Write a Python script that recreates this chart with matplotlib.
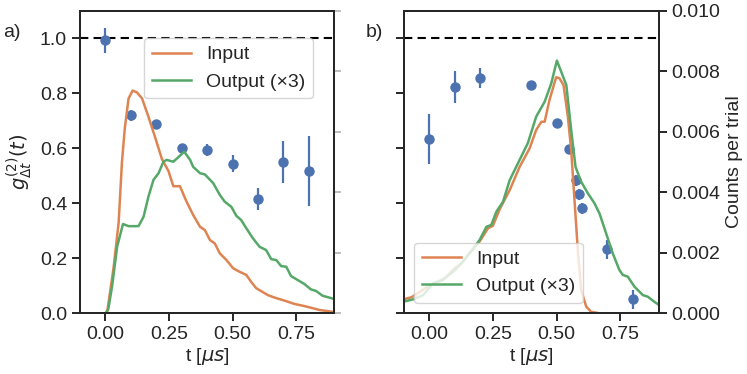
import numpy as np
import matplotlib
matplotlib.use("Agg")
import matplotlib.pyplot as plt

# ---- panel a) data ----
a_t_pts = [0.0, 0.1, 0.2, 0.3, 0.4, 0.5, 0.6, 0.7, 0.8]
a_g2 = [0.992, 0.72, 0.689, 0.601, 0.593, 0.544, 0.414, 0.55, 0.517]
a_g2_err = [0.045, 0.02, 0.012, 0.012, 0.023, 0.03, 0.04, 0.076, 0.126]

a_in_t = [-0.1, 0.0, 0.007, 0.032, 0.052, 0.065, 0.076, 0.091, 0.107, 0.124, 0.144,
          0.169, 0.196, 0.222, 0.248, 0.267, 0.293, 0.319, 0.345, 0.372, 0.391,
          0.411, 0.430, 0.450, 0.476, 0.502, 0.528, 0.554, 0.573, 0.593, 0.639,
          0.665, 0.704, 0.743, 0.782, 0.815, 0.841, 0.867, 0.9]
a_in = [0.0, 0.0, 0.00005, 0.0015, 0.0030, 0.0050, 0.0061, 0.0071, 0.00736, 0.0073, 0.0071,
        0.0065, 0.0058, 0.0051, 0.0047, 0.0042, 0.0042, 0.00369, 0.00325, 0.00286, 0.00275,
        0.00242, 0.00231, 0.00198, 0.00176, 0.00149, 0.00137, 0.00127, 0.00104, 0.00083, 0.00060,
        0.00052, 0.00042, 0.00031, 0.00024, 0.00017, 0.00011, 0.00008, 0.00004]

a_out_t = [-0.1, 0.0, 0.011, 0.026, 0.046, 0.069, 0.091, 0.130, 0.150, 0.169, 0.189,
           0.209, 0.228, 0.241, 0.267, 0.287, 0.310, 0.333, 0.345, 0.372, 0.391,
           0.424, 0.450, 0.469, 0.495, 0.515, 0.534, 0.554, 0.580, 0.606, 0.632,
           0.652, 0.672, 0.691, 0.711, 0.730, 0.756, 0.782, 0.808, 0.828, 0.854,
           0.880, 0.9]
a_out = [0.0, 0.0, 0.00013, 0.00088, 0.0022, 0.00295, 0.00288, 0.00288, 0.00319, 0.00385, 0.00441,
         0.00463, 0.00501, 0.00507, 0.00501, 0.00516, 0.00534, 0.00507, 0.00484, 0.00463, 0.00459,
         0.0043, 0.00391, 0.00369, 0.00352, 0.00322, 0.00308, 0.00281, 0.00248, 0.0022, 0.00209,
         0.00179, 0.00176, 0.00156, 0.00154, 0.00123, 0.0011, 0.00097, 0.00079, 0.00074, 0.00058,
         0.00052, 0.00047]

# ---- panel b) data ----
b_t_pts = [0.0, 0.1, 0.2, 0.4, 0.5, 0.55, 0.577, 0.588, 0.599, 0.696, 0.798]
b_g2 = [0.635, 0.822, 0.855, 0.831, 0.693, 0.596, 0.484, 0.433, 0.381, 0.232, 0.051]
b_g2_err = [0.091, 0.058, 0.035, 0.01, 0.01, 0.01, 0.02, 0.02, 0.02, 0.035, 0.035]

b_in_t = [-0.102, -0.069, -0.036, 0.003, 0.055, 0.101, 0.127, 0.159, 0.198, 0.231, 0.250,
          0.277, 0.316, 0.355, 0.394, 0.420, 0.440, 0.453, 0.472, 0.498, 0.511,
          0.527, 0.544, 0.557, 0.570, 0.583, 0.596, 0.616, 0.635, 0.668, 0.9]
b_in = [0.00046, 0.00053, 0.00071, 0.00094, 0.0011, 0.00149, 0.00165, 0.002, 0.00237, 0.00281, 0.00289,
        0.00344, 0.00407, 0.00484, 0.00545, 0.00606, 0.00633, 0.00633, 0.00705, 0.0078, 0.00777,
        0.00754, 0.0065, 0.0054, 0.00374, 0.00209, 0.00077, 0.00022, 0.00005, 0.0, 0.0]

b_out_t = [-0.102, -0.063, -0.023, 0.016, 0.055, 0.094, 0.127, 0.159, 0.198, 0.225, 0.244,
           0.264, 0.290, 0.316, 0.355, 0.387, 0.420, 0.453, 0.479, 0.501, 0.518,
           0.538, 0.557, 0.574, 0.596, 0.622, 0.648, 0.668, 0.694, 0.720, 0.746,
           0.759, 0.779, 0.805, 0.838, 0.857, 0.883, 0.902]
b_out = [0.00038, 0.00046, 0.0006, 0.00099, 0.00112, 0.00137, 0.00165, 0.00198, 0.00242, 0.00286, 0.00292,
         0.00336, 0.00369, 0.0044, 0.00507, 0.00562, 0.0065, 0.00699, 0.0076, 0.00835, 0.00798,
         0.00754, 0.00606, 0.00484, 0.00435, 0.00397, 0.00364, 0.0033, 0.00264, 0.00198, 0.00143,
         0.00127, 0.00121, 0.00088, 0.0006, 0.00055, 0.00038, 0.00027]

x_ticks = [0.0, 0.25, 0.5, 0.75]
g2_ticks = [0.0, 0.2, 0.4, 0.6, 0.8, 1.0]
count_ticks = [0.0, 0.002, 0.004, 0.006, 0.008, 0.010]

BLUE = "#4C72B0"
ORANGE = "#DD8452"
GREEN = "#55A868"
DARK = "#262626"

fs = 14
plt.rcParams.update({
    "font.family": ["Liberation Sans", "DejaVu Sans"],
    "font.size": fs,
    "axes.edgecolor": DARK,
    "axes.linewidth": 1.4,
    "xtick.color": DARK,
    "ytick.color": DARK,
    "xtick.major.size": 5.8,
    "ytick.major.size": 5.8,
    "xtick.major.width": 1.4,
    "ytick.major.width": 1.4,
    "text.color": DARK,
    "axes.labelcolor": DARK,
})

fig = plt.figure(figsize=(7.47, 3.74), dpi=100)
ax_a = fig.add_axes([0.1071, 0.1623, 0.3404, 0.8091])
ax_b = fig.add_axes([0.5402, 0.1623, 0.3416, 0.8091])


def setup_panel(ax, show_left_labels):
    ax.set_xlim(-0.1, 0.9)
    ax.set_ylim(0, 1.1)
    ax.set_xticks(x_ticks)
    ax.set_xticklabels([f"{v:.2f}" for v in x_ticks])
    ax.set_yticks(g2_ticks)
    if show_left_labels:
        ax.set_yticklabels([f"{v:.1f}" for v in g2_ticks])
    else:
        ax.set_yticklabels([])
    ax.set_xlabel(r"t [$\mu s$]", fontsize=fs, labelpad=2)
    ax.axhline(1.0, color="black", ls=(0, (4, 2.5)), lw=1.5, zorder=1)


# ---- panel a ----
setup_panel(ax_a, True)
ax_a.set_ylabel(r"$g^{(2)}_{\Delta t}(t)$", fontsize=fs)
ax_a.errorbar(a_t_pts, a_g2, yerr=a_g2_err, fmt="o", color=BLUE, ms=6.5,
              elinewidth=1.6, capsize=0, zorder=5)
tw_a = ax_a.twinx()
tw_a.set_ylim(0, 0.010)
tw_a.set_yticks(count_ticks)
tw_a.set_yticklabels([])
tw_a.tick_params(axis="y", color="#b0b0b0", width=1.2, length=5)
tw_a.plot(a_in_t, a_in, color=ORANGE, lw=1.8, label="Input")
tw_a.plot(a_out_t, a_out, color=GREEN, lw=1.8, label="Output (×3)")
tw_a.legend(loc="upper left", bbox_to_anchor=(0.252, 0.91), borderaxespad=0,
            fontsize=fs, framealpha=0.8, edgecolor="#cccccc")

# ---- panel b ----
setup_panel(ax_b, False)
ax_b.errorbar(b_t_pts, b_g2, yerr=b_g2_err, fmt="o", color=BLUE, ms=6.5,
              elinewidth=1.6, capsize=0, zorder=5)
tw_b = ax_b.twinx()
tw_b.set_ylim(0, 0.010)
tw_b.set_yticks(count_ticks)
tw_b.set_yticklabels([f"{v:.3f}" for v in count_ticks])
tw_b.set_ylabel("Counts per trial", fontsize=fs)
tw_b.plot(b_in_t, b_in, color=ORANGE, lw=1.8, label="Input")
tw_b.plot(b_out_t, b_out, color=GREEN, lw=1.8, label="Output (×3)")
tw_b.legend(loc="lower left", bbox_to_anchor=(0.041, 0.034), borderaxespad=0,
            fontsize=fs, framealpha=0.8, edgecolor="#cccccc")

fig.text(0.004, 0.912, "a)", fontsize=fs, va="center")
fig.text(0.49, 0.912, "b)", fontsize=fs, va="center")

fig.savefig("out.png", dpi=100)
